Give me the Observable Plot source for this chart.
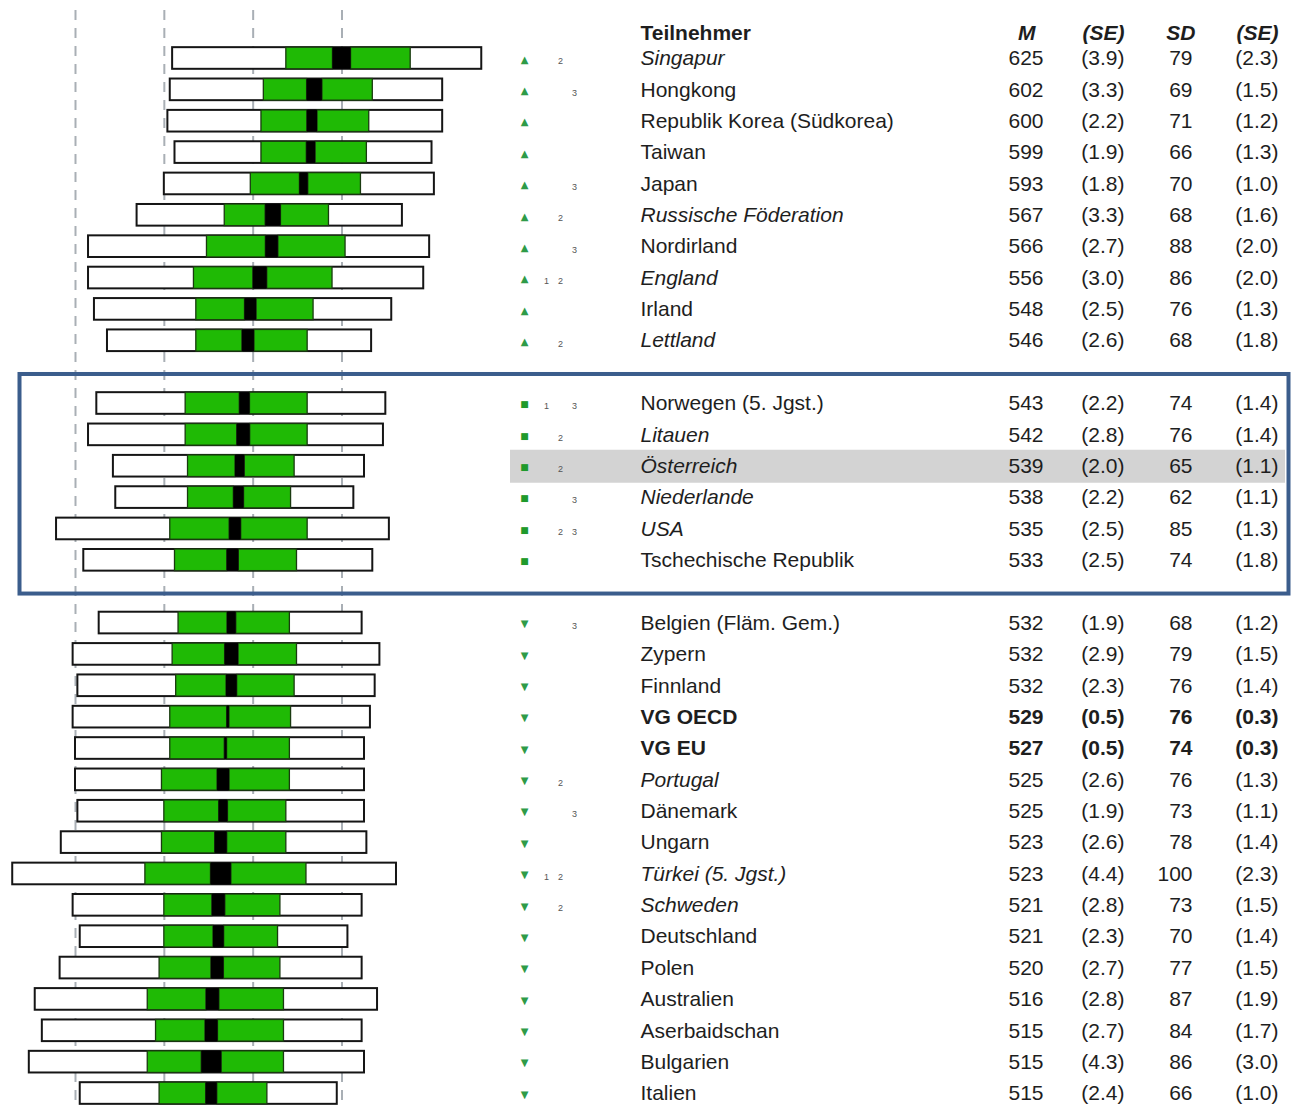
<!DOCTYPE html>
<html lang="de">
<head>
<meta charset="utf-8">
<title>Mathematik 4. Jahrgangsstufe – Leistungsverteilung</title>
<script src="https://cdn.jsdelivr.net/npm/d3@7"></script>
<script src="https://cdn.jsdelivr.net/npm/@observablehq/plot@0.6"></script>
<style>
  html, body { margin: 0; padding: 0; background: #fff; }
  #chart svg { display: block; }
</style>
</head>
<body>
<div id="chart"></div>
<script>
// Teilnehmer in Rangfolge des Mittelwerts
const names = [
  "Singapur", "Hongkong", "Republik Korea (Südkorea)", "Taiwan", "Japan",
  "Russische Föderation", "Nordirland", "England", "Irland", "Lettland",
  "Norwegen (5. Jgst.)", "Litauen", "Österreich", "Niederlande", "USA",
  "Tschechische Republik",
  "Belgien (Fläm. Gem.)", "Zypern", "Finnland", "VG OECD", "VG EU", "Portugal",
  "Dänemark", "Ungarn", "Türkei (5. Jgst.)", "Schweden", "Deutschland", "Polen",
  "Australien", "Aserbaidschan", "Bulgarien", "Italien"
];
// Vergleich mit Österreich: über / nicht verschieden / unter
const groups = [
  "up","up","up","up","up","up","up","up","up","up",
  "eq","eq","eq","eq","eq","eq",
  "down","down","down","down","down","down","down","down","down","down","down","down","down","down","down","down"
];
const footnotes = [
  "2","3","","","3","2","3","1 2","","2",
  "1 3","2","2","3","2 3","",
  "3","","","","","2","3","","1 2","2","","","","","",""
];
const italicNames = [
  "Singapur","Russische Föderation","England","Lettland","Litauen","Österreich",
  "Niederlande","USA","Portugal","Türkei (5. Jgst.)","Schweden"
];
const boldNames = ["VG OECD","VG EU"];

// Mittelwert, Standardfehler, Standardabweichung, Standardfehler der SD
const means = [625,602,600,599,593,567,566,556,548,546,543,542,539,538,535,533,532,532,532,529,527,525,525,523,523,521,521,520,516,515,515,515];
const meanSE = [3.9,3.3,2.2,1.9,1.8,3.3,2.7,3.0,2.5,2.6,2.2,2.8,2.0,2.2,2.5,2.5,1.9,2.9,2.3,0.5,0.5,2.6,1.9,2.6,4.4,2.8,2.3,2.7,2.8,2.7,4.3,2.4];
const sds = [79,69,71,66,70,68,88,86,76,68,74,76,65,62,85,74,68,79,76,76,74,76,73,78,100,73,70,77,87,84,86,66];
const sdSE = [2.3,1.5,1.2,1.3,1.0,1.6,2.0,2.0,1.3,1.8,1.4,1.4,1.1,1.1,1.3,1.8,1.2,1.5,1.4,0.3,0.3,1.3,1.1,1.4,2.3,1.5,1.4,1.5,1.9,1.7,3.0,1.0];

// Perzentile 5, 25, 75, 95
const p5  = [482,480,478,484,475,452,411,411,416,427,418,411,432,434,384,407,420,398,402,398,400,400,402,388,347,398,404,387,366,372,361,404];
const p25 = [578,559,557,557,548,526,511,500,502,502,493,493,495,495,480,484,487,482,485,480,480,473,475,473,459,475,475,471,461,468,461,471];
const p75 = [683,651,648,646,641,614,628,617,601,596,596,596,585,582,596,587,581,587,585,582,581,581,578,578,595,573,571,573,576,576,576,562];
const p95 = [743,710,710,701,703,676,699,694,667,650,662,660,644,635,665,651,642,657,653,649,644,644,644,646,671,642,630,642,655,642,644,621];

// Kompetenzstufen-Grenzen
const benchmarks = [400, 475, 550, 625];

const rows = names.map((name, i) => ({
  name,
  group: groups[i],
  notes: footnotes[i],
  style: boldNames.includes(name) ? "bold" : italicNames.includes(name) ? "italic" : "normal",
  m: means[i], se: meanSE[i], sd: sds[i], sdse: sdSE[i],
  p5: p5[i], p25: p25[i], p75: p75[i], p95: p95[i],
  ciLo: means[i] - 1.96 * meanSE[i],
  ciHi: means[i] + 1.96 * meanSE[i]
}));

// Leerzeilen trennen die drei Gruppen
const rowKeys = [...names.slice(0, 10), "gap1", ...names.slice(10, 16), "gap2", ...names.slice(16)];

const W = 1292, H = 1106;
const yOpts = {type: "band", domain: rowKeys, range: [42.3, 1108.7], paddingInner: 0.31, paddingOuter: 0.155, round: false, axis: null};
const yScale = Plot.scale({y: yOpts});
const half = (yScale.step ?? 31.36) / 2;
const frameTop = yScale.apply("gap1") + half - 3;
const frameBottom = yScale.apply("gap2") + half - 3;

const font = "'Liberation Sans', Arial, Helvetica, sans-serif";
const ink = "#1e1e1e";
const green = "#1fba05";
const markGreen = "#2e9b48";

const noteMarks = rows.flatMap(r => r.notes ? r.notes.split(" ").map(d => ({name: r.name, digit: d})) : []);
const glyph = {up: "▲", eq: "■", down: "▼"};

// Tabellenspalte; Namen kursiv/fett je Teilnehmer, Zahlen nur fett für Durchschnittswerte
function col(key, fmt, dx, anchor) {
  return ["normal", "italic", "bold"].map(st => Plot.text(rows.filter(r => (key === "name" ? r.style : (r.style === "bold" ? "bold" : "normal")) === st), {
    y: "name",
    text: d => fmt(d[key]),
    frameAnchor: "left",
    dx,
    textAnchor: anchor,
    fontFamily: font,
    fontSize: 21,
    fontStyle: st === "italic" ? "italic" : "normal",
    fontWeight: st === "bold" ? "bold" : "normal",
    fill: ink
  }));
}

const header = [
  {t: "Teilnehmer", dx: 640, a: "start", s: "normal"},
  {t: "M", dx: 1035, a: "end", s: "italic"},
  {t: "(SE)", dx: 1124, a: "end", s: "italic"},
  {t: "SD", dx: 1195, a: "end", s: "italic"},
  {t: "(SE)", dx: 1278, a: "end", s: "italic"}
];

const chart = Plot.plot({
  width: W,
  height: H,
  margin: 0,
  style: {background: "#fff", overflow: "visible"},
  x: {domain: [400, 625], range: [75, 341.5], axis: null},
  y: yOpts,
  marks: [
    // Hervorhebung Österreich
    Plot.ruleY(["Österreich"], {stroke: "#d3d3d3", strokeWidth: 33, insetLeft: 510, insetRight: 7}),
    // Kompetenzstufen
    Plot.ruleX(benchmarks, {stroke: "#a9afb5", strokeWidth: 2, strokeDasharray: "10,8", insetTop: 10}),
    // Perzentilbalken
    Plot.barX(rows, {y: "name", x1: "p5", x2: "p95", fill: "#fff", stroke: "#151515", strokeWidth: 2}),
    Plot.barX(rows, {y: "name", x1: "p25", x2: "ciLo", fill: green, stroke: "#1a3a10", strokeWidth: 1.3}),
    Plot.barX(rows, {y: "name", x1: "ciHi", x2: "p75", fill: green, stroke: "#1a3a10", strokeWidth: 1.3}),
    Plot.barX(rows, {y: "name", x1: "ciLo", x2: "ciHi", fill: "#000"}),
    // Vergleichssymbole
    Plot.text(rows.filter(r => r.group !== "eq"), {y: "name", text: d => glyph[d.group], frameAnchor: "left", dx: 524, dy: 1,
      textAnchor: "middle", fontFamily: "'DejaVu Sans', sans-serif", fontSize: 10, fill: markGreen}),
    Plot.text(rows.filter(r => r.group === "eq"), {y: "name", text: d => glyph[d.group], frameAnchor: "left", dx: 524, dy: 1,
      textAnchor: "middle", fontFamily: "'DejaVu Sans', sans-serif", fontSize: 9, fill: "#1f9a2c"}),
    // Fußnoten 1, 2, 3 in eigenen Spalten
    ...["1", "2", "3"].map((digit, k) => Plot.text(noteMarks.filter(n => n.digit === digit), {
      y: "name", text: "digit", frameAnchor: "left", dx: 546 + 14 * k, dy: 3, textAnchor: "middle",
      fontFamily: font, fontSize: 9, fill: "#555"})),
    // Tabelle
    ...col("name", d => d, 640, "start"),
    ...col("m", d => String(d), 1043, "end"),
    ...col("se", d => `(${d.toFixed(1)})`, 1124, "end"),
    ...col("sd", d => String(d), 1192, "end"),
    ...col("sdse", d => `(${d.toFixed(1)})`, 1278, "end"),
    // Kopfzeile
    ...header.map(h => Plot.text([h], {text: "t", frameAnchor: "top-left", dx: h.dx, dy: 33, lineAnchor: "middle",
      textAnchor: h.a, fontFamily: font, fontSize: 21, fontWeight: "bold", fontStyle: h.s, fill: ink})),
    // Rahmen um die nicht signifikant verschiedenen Teilnehmer
    Plot.frame({stroke: "#3b5d8c", strokeWidth: 4, insetLeft: 19, insetRight: 4, insetTop: frameTop, insetBottom: H - frameBottom})
  ]
});

document.getElementById("chart").appendChild(chart);
</script>
</body>
</html>
